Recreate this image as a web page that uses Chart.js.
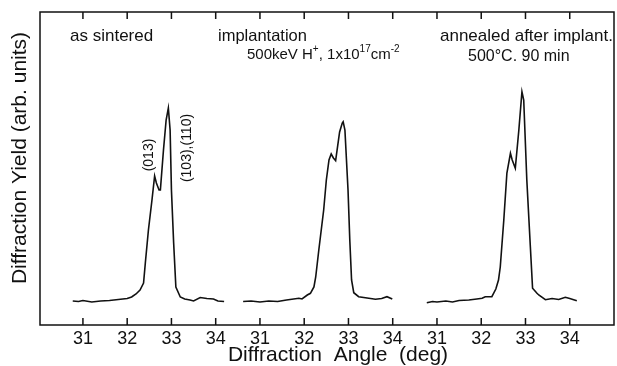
<!DOCTYPE html>
<html>
<head>
<meta charset="utf-8">
<script src="https://cdn.jsdelivr.net/npm/chart.js@4"></script>
<style>
  html, body { margin: 0; padding: 0; background: #fff; }
  #wrap { width: 617px; height: 366px; }
</style>
</head>
<body>
<div id="wrap"><canvas id="myChart" width="617" height="366"></canvas></div>
<script>
// tick labels repeated under each of the three panels
const tickAngles = [31, 32, 33, 34];

// panel captions
const panelTitles = ["as sintered", "implantation", "annealed after implant."];

// as sintered
const sinteredAngle = [30.77, 30.9, 31.0, 31.2, 31.4, 31.6, 31.8, 32.0, 32.1, 32.2, 32.29, 32.37, 32.41, 32.48, 32.56, 32.62, 32.66, 32.72, 32.75, 32.82, 32.88, 32.93, 32.97, 33.0, 33.05, 33.1, 33.2, 33.3, 33.42, 33.5, 33.65, 33.8, 33.95, 34.05, 34.19];
const sinteredYield = [24, 23.5, 24.5, 23, 24, 24.5, 25.5, 26.5, 28, 31, 35, 42, 62, 95, 125, 149, 142, 135, 135, 175, 205, 217, 195, 135, 82, 38, 28, 26, 25, 24, 27.5, 26.5, 26, 24, 23.5];

// after implantation
const implantedAngle = [30.62, 30.8, 31.0, 31.2, 31.4, 31.6, 31.88, 31.95, 32.07, 32.14, 32.22, 32.26, 32.33, 32.44, 32.5, 32.56, 32.61, 32.66, 32.71, 32.8, 32.86, 32.88, 32.92, 32.99, 33.03, 33.07, 33.12, 33.23, 33.46, 33.61, 33.75, 33.87, 33.99];
const implantedYield = [23.5, 24, 23, 24, 23.5, 25, 26.7, 26, 30, 31.7, 38, 48, 75, 115, 145, 165, 171, 167, 164.3, 193, 202, 203.3, 195, 135, 85, 45, 32.3, 28.3, 26.7, 25.7, 26.5, 28.3, 26];

// annealed after implantation
const annealedAngle = [30.77, 30.9, 31.0, 31.2, 31.35, 31.5, 31.72, 31.9, 32.02, 32.09, 32.24, 32.33, 32.39, 32.43, 32.51, 32.58, 32.66, 32.7, 32.77, 32.85, 32.92, 32.96, 33.03, 33.11, 33.16, 33.26, 33.3, 33.45, 33.6, 33.75, 33.9, 34.0, 34.16];
const annealedYield = [22.3, 23.5, 23, 24, 23, 24.5, 25, 26, 26.7, 28.3, 28.3, 36, 45, 58, 105, 152, 171.7, 165, 156.7, 195, 233.3, 225, 145, 78.3, 36.7, 31.7, 30, 25.3, 26.5, 25.5, 27.7, 26.5, 24.3];

const FONT = "'Liberation Sans', Arial, sans-serif";

// each panel is shifted 4 units along one shared axis
const toPoints = (angles, yields, panel) =>
  angles.map((a, i) => ({ x: a - 30 + 4 * panel, y: yields[i] }));

const tickValues = [];
[0, 1, 2].forEach((p) => tickAngles.forEach((a) => tickValues.push(a - 30 + 4 * p)));

// frame, inward ticks and the captions
const framePlugin = {
  id: "frame",
  afterDraw(chart) {
    const ctx = chart.ctx;
    const area = chart.chartArea;
    const xs = chart.scales.x;
    ctx.save();
    ctx.strokeStyle = "#111";
    ctx.lineWidth = 1.5;
    ctx.strokeRect(area.left, area.top, area.right - area.left, area.bottom - area.top);
    ctx.beginPath();
    tickValues.forEach((v) => {
      const px = xs.getPixelForValue(v);
      ctx.moveTo(px, area.bottom);
      ctx.lineTo(px, area.bottom - 7);
      ctx.moveTo(px, area.top);
      ctx.lineTo(px, area.top + 7);
    });
    ctx.stroke();

    ctx.fillStyle = "#111";
    ctx.textBaseline = "alphabetic";
    ctx.font = "17px " + FONT;
    ctx.fillText(panelTitles[0], 70, 41);
    ctx.fillText(panelTitles[2], 440, 41);
    ctx.font = "16.5px " + FONT;
    ctx.fillText(panelTitles[1], 218, 41);

    // second lines with superscripts
    const runs = (x, y, size, parts) => {
      parts.forEach(([t, sup]) => {
        ctx.font = (sup ? "10px " : size + "px ") + FONT;
        ctx.fillText(t, x, sup ? y - 7 : y);
        x += ctx.measureText(t).width;
      });
    };
    runs(247, 59, 15, [["500keV H", false], ["+", true], [", 1x10", false], ["17", true], ["cm", false], ["-2", true]]);
    runs(468, 61, 16, [["500°C. 90 min", false]]);

    // peak indices
    ctx.font = "14px " + FONT;
    ctx.textAlign = "center";
    ctx.textBaseline = "middle";
    [["(013)", 149, 155], ["(103),(110)", 187, 148]].forEach(([t, x, y]) => {
      ctx.save();
      ctx.translate(x, y);
      ctx.rotate(-Math.PI / 2);
      ctx.fillText(t, 0, 0);
      ctx.restore();
    });

    // axis titles
    ctx.font = "21px " + FONT;
    ctx.fillText("Diffraction  Angle  (deg)", 338, 355);
    ctx.save();
    ctx.translate(20, 158);
    ctx.rotate(-Math.PI / 2);
    ctx.fillText("Diffraction Yield (arb. units)", 0, 0);
    ctx.restore();
    ctx.restore();
  },
};

const ctx = document.getElementById("myChart").getContext("2d");
const chart = new Chart(ctx, {
  type: "line",
  data: {
    datasets: [
      { label: panelTitles[0], data: toPoints(sinteredAngle, sinteredYield, 0) },
      { label: panelTitles[1], data: toPoints(implantedAngle, implantedYield, 1) },
      { label: panelTitles[2], data: toPoints(annealedAngle, annealedYield, 2) },
    ].map((d) => ({
      ...d,
      borderColor: "#111",
      borderWidth: 1.6,
      pointRadius: 0,
      tension: 0,
      fill: false,
    })),
  },
  options: {
    responsive: false,
    animation: false,
    layout: { padding: { top: 12, right: 3, left: 0, bottom: 0 } },
    plugins: { legend: { display: false }, tooltip: { enabled: false } },
    scales: {
      x: {
        type: "linear",
        min: 0.03,
        max: 13,
        grid: { display: false, drawTicks: false, tickLength: 0 },
        border: { display: false },
        afterBuildTicks: (scale) => {
          scale.ticks = tickValues.map((v) => ({ value: v }));
        },
        afterFit: (scale) => {
          scale.height = 41;
        },
        ticks: {
          autoSkip: false,
          maxRotation: 0,
          padding: 3,
          color: "#111",
          font: { family: FONT, size: 18 },
          callback: (v) => tickAngles[(Math.round(v) - 1) % 4],
        },
      },
      y: {
        min: 0,
        max: 313,
        grid: { display: false, drawTicks: false },
        border: { display: false },
        ticks: { display: false },
        afterFit: (scale) => {
          scale.width = 40;
        },
      },
    },
  },
  plugins: [framePlugin],
});
</script>
</body>
</html>
